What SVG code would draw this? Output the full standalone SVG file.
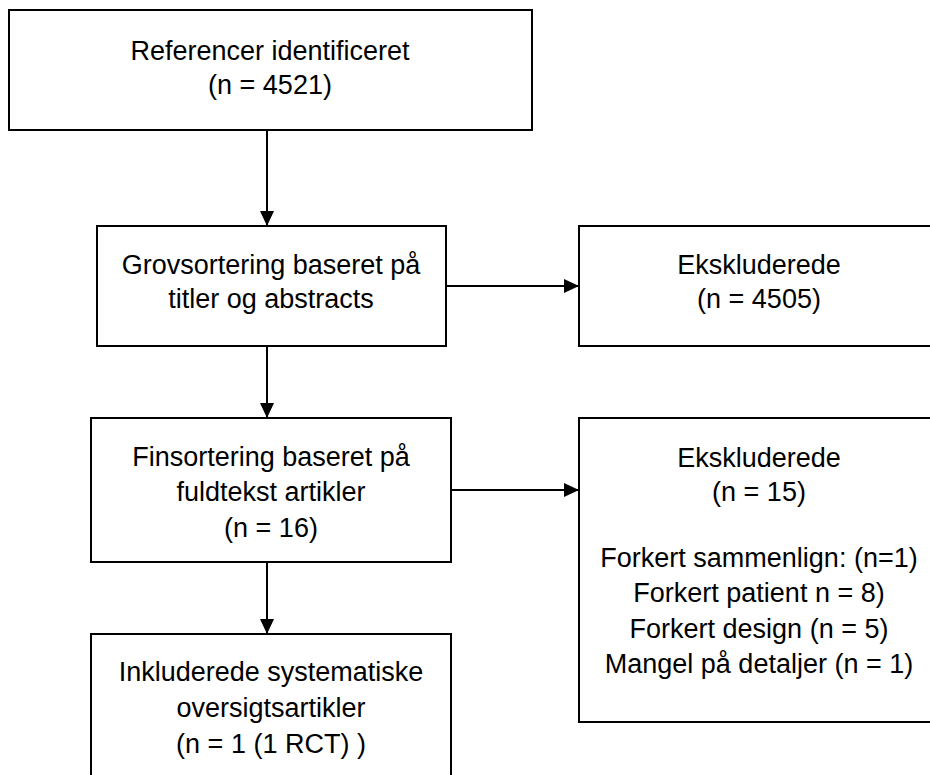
<svg xmlns="http://www.w3.org/2000/svg" width="930" height="775" viewBox="0 0 930 775">
<style>
.box{fill:#fff;stroke:#000;stroke-width:2}
.t{font-family:"Liberation Sans",Arial,sans-serif;font-size:27px;fill:#000;text-anchor:middle}
.c{stroke:#000;stroke-width:2;fill:none}
</style>
<defs>
<marker id="ah" markerWidth="15" markerHeight="14" refX="15" refY="7" orient="auto" markerUnits="userSpaceOnUse">
<path d="M0,0 L15,7 L0,14 Z" fill="#000"/>
</marker>
</defs>
<rect width="930" height="775" fill="#fff"/>
<g id="connectors">
<line class="c" x1="267" y1="130" x2="267" y2="226" marker-end="url(#ah)"/>
<line class="c" x1="446" y1="286" x2="579" y2="286" marker-end="url(#ah)"/>
<line class="c" x1="267" y1="346" x2="267" y2="418" marker-end="url(#ah)"/>
<line class="c" x1="451" y1="490" x2="579" y2="490" marker-end="url(#ah)"/>
<line class="c" x1="267" y1="562" x2="267" y2="634" marker-end="url(#ah)"/>
</g>
<g id="n1">
<rect class="box" x="9" y="10" width="523" height="120"/>
<text class="t" x="270" y="60">Referencer identificeret</text>
<text class="t" x="270" y="94">(n = 4521)</text>
</g>
<g id="n2">
<rect class="box" x="97" y="226" width="349" height="120"/>
<text class="t" x="271" y="274">Grovsortering baseret på</text>
<text class="t" x="271" y="308">titler og abstracts</text>
</g>
<g id="n3">
<rect class="box" x="579" y="226" width="361" height="120"/>
<text class="t" x="759" y="274">Ekskluderede</text>
<text class="t" x="759" y="308">(n = 4505)</text>
</g>
<g id="n4">
<rect class="box" x="91" y="418" width="360" height="144"/>
<text class="t" x="271" y="466">Finsortering baseret på</text>
<text class="t" x="271" y="501">fuldtekst artikler</text>
<text class="t" x="271" y="537">(n = 16)</text>
</g>
<g id="n5">
<rect class="box" x="579" y="418" width="361" height="304"/>
<text class="t" x="759" y="467">Ekskluderede</text>
<text class="t" x="759" y="501">(n = 15)</text>
<text class="t" x="759" y="567">Forkert sammenlign: (n=1)</text>
<text class="t" x="759" y="602">Forkert patient n = 8)</text>
<text class="t" x="759" y="638">Forkert design (n = 5)</text>
<text class="t" x="759" y="673">Mangel på detaljer (n = 1)</text>
</g>
<g id="n6">
<rect class="box" x="91" y="634" width="360" height="150"/>
<text class="t" x="271" y="681">Inkluderede systematiske</text>
<text class="t" x="271" y="717">oversigtsartikler</text>
<text class="t" x="271" y="753">(n = 1 (1 RCT) )</text>
</g>
</svg>
